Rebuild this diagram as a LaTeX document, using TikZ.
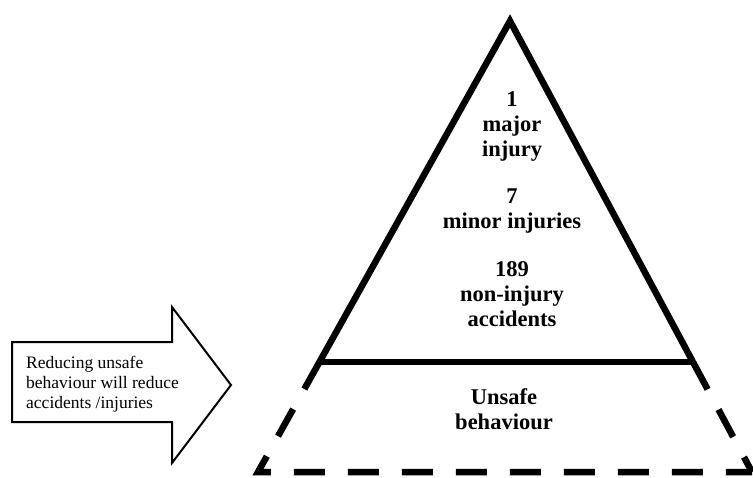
\documentclass[tikz,border=0pt]{standalone}
\usepackage{fontspec}
\setmainfont{Liberation Serif}
\usetikzlibrary{calc}
\begin{document}
\begin{tikzpicture}[x=1pt,y=-1pt,
  side/.style={line width=6.5pt,line join=miter},
  lowerside/.style={side,dash pattern=on 31pt off 23pt},
  level/.style={font=\fontsize{22.5}{25}\selectfont\bfseries,align=center,inner sep=0pt},
  notebox/.style={line width=2pt,line join=miter},
  notetext/.style={font=\fontsize{17.5}{20}\selectfont,align=left,anchor=west,inner sep=0pt}]
  \useasboundingbox (0,0) rectangle (753,477);

  % pyramid corners
  \coordinate (apex) at (510,21);
  \coordinate (bl) at (258,472);
  \coordinate (br) at (752,472);
  \coordinate (hl) at ($(apex)!0.756!(bl)$);
  \coordinate (hr) at ($(apex)!0.756!(br)$);

  % solid upper part with its base line
  \draw[side] (hl) -- (apex) -- (hr);
  \draw[side] (hl) -- (hr);
  % dashed lower part
  \draw[lowerside] (hl) -- (bl) -- (br);
  \draw[lowerside] (hr) -- (br);

  % level labels
  \node[level] (major) at (512,126) {1\\major\\injury};
  \node[level] (minor) at (512,211) {7\\minor injuries};
  \node[level] (nonin) at (512,294) {189\\non-injury\\accidents};
  \node[level] (unsafe) at (504,409) {Unsafe\\behaviour};

  % block arrow with its note
  \draw[notebox] (12,342) -- (172,342) -- (172,307) -- (231,385)
    -- (172,463) -- (172,422) -- (12,422) -- cycle;
  \node[notetext] (note) at (26,384) {Reducing unsafe\\behaviour will reduce\\accidents /injuries};
\end{tikzpicture}
\end{document}
